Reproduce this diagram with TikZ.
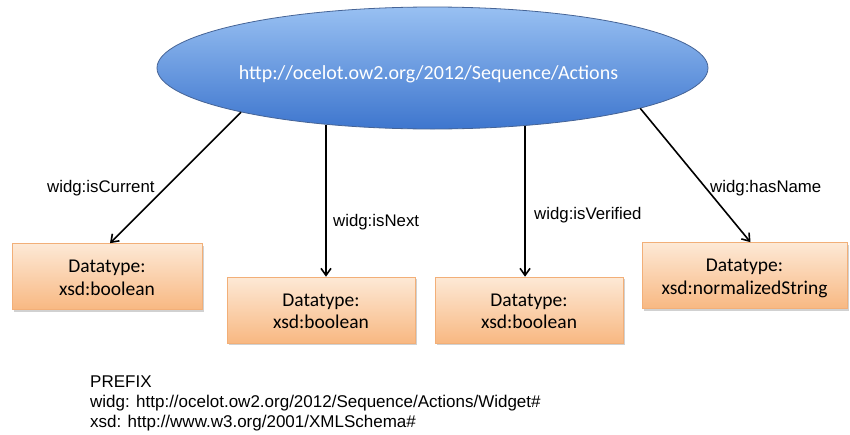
\documentclass[tikz,border=0pt]{standalone}
\usepackage{fontspec}
\setmainfont{Carlito}
\newfontfamily\arialf{Liberation Sans}
\usetikzlibrary{shapes.geometric,arrows.meta,shadows}
\definecolor{elltop}{RGB}{152,192,242}
\definecolor{ellbot}{RGB}{62,118,206}
\definecolor{elldraw}{RGB}{70,100,150}
\definecolor{boxtop}{RGB}{253,233,214}
\definecolor{boxbot}{RGB}{248,184,130}
\definecolor{boxdraw}{RGB}{242,175,120}
\newcommand{\typetext}[1]{\raisebox{-18.5pt}[0pt][0pt]{\shortstack{Datatype:\\[2.5pt]#1}}}
\begin{document}
\begin{tikzpicture}[x=1pt,y=-1pt,
  rootnode/.style={ellipse, draw=elldraw, line width=0.8pt, top color=elltop, bottom color=ellbot,
    minimum width=551pt, minimum height=122pt, inner sep=0pt, text=white,
    font=\fontsize{20}{24}\selectfont},
  typebox/.style={rectangle, draw=boxdraw, line width=0.6pt, top color=boxtop, bottom color=boxbot,
    minimum height=66pt, align=center, inner sep=0pt,
    font=\fontsize{19.5}{22}\selectfont,
    drop shadow={shadow xshift=2pt, shadow yshift=-2pt, opacity=0.18, fill=black}},
  edgelabel/.style={font=\arialf\fontsize{16.8}{19}\selectfont, inner sep=0pt, anchor=west},
  prefixtext/.style={font=\arialf\fontsize{17}{19.8}\selectfont, inner sep=0pt, anchor=north west, align=left},
  rel/.style={-{Straight Barb[length=7pt,width=10pt,line width=1.6pt]}, line width=1.6pt, black}
]
\useasboundingbox[fill=white] (0,0) rectangle (850,434);

\node[rootnode] (root) at (432.5,68) {\raisebox{-11.5pt}[0pt][0pt]{\hspace*{-8pt}http://ocelot.ow2.org/2012/Sequence/Actions}};

\node[typebox, minimum width=190pt] (b1) at (107,276.5) {\typetext{xsd:boolean}};
\node[typebox, minimum width=188pt] (b2) at (321,310) {\typetext{xsd:boolean}};
\node[typebox, minimum width=188pt] (b3) at (529,310) {\typetext{xsd:boolean}};
\node[typebox, minimum width=205pt] (b4) at (744.5,275.5) {\typetext{xsd:normalizedString}};

\draw[rel] (root.-167) -- ([xshift=3pt]b1.north);
\draw[rel] (root.-152.3) -- (root.-152.3 |- b2.north);
\draw[rel] (root.-32.2) -- (root.-32.2 |- b3.north);
\draw[rel] (root.-11.9) -- ([xshift=6pt]b4.north);

\node[edgelabel] (l1) at (47,188) {widg:isCurrent};
\node[edgelabel] (l2) at (333,222) {widg:isNext};
\node[edgelabel] (l3) at (534,215) {widg:isVerified};
\node[edgelabel] (l4) at (710,188) {widg:hasName};

\node[prefixtext] (prefix) at (90,376) {PREFIX\\widg: http://ocelot.ow2.org/2012/Sequence/Actions/Widget\#\\xsd: http://www.w3.org/2001/XMLSchema\#};
\end{tikzpicture}
\end{document}
